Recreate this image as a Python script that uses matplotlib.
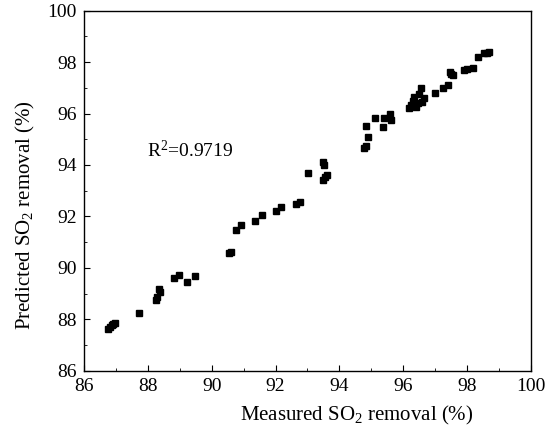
import numpy as np
import matplotlib
matplotlib.use("Agg")
import matplotlib.pyplot as plt
from matplotlib.ticker import MultipleLocator

plt.rcParams['font.family'] = ['Liberation Serif', 'DejaVu Serif']
plt.rcParams['mathtext.fontset'] = 'custom'
plt.rcParams['mathtext.rm'] = 'Liberation Serif'
plt.rcParams['mathtext.it'] = 'Liberation Serif:italic'

measured = [86.76, 86.82, 86.88, 86.92, 86.97, 87.73,
            88.24, 88.30, 88.35, 88.38, 88.81, 88.97, 89.24, 89.47,
            90.54, 90.60, 90.77, 90.93, 91.37, 91.59, 92.00, 92.16,
            92.65, 92.75, 93.01,
            93.48, 93.53, 93.55, 93.50, 93.60,
            94.78, 94.84, 94.90, 94.84, 95.10, 95.36, 95.39, 95.57, 95.60,
            96.19, 96.25, 96.35, 96.45, 96.30, 96.40, 96.56, 96.66, 96.50, 96.60,
            96.98, 97.24, 97.40, 97.45, 97.56, 97.50,
            97.91, 98.00, 98.17, 98.33, 98.54, 98.62, 98.70]
predicted = [87.64, 87.70, 87.76, 87.81, 87.86, 88.23,
             88.74, 88.85, 89.16, 89.05, 89.59, 89.72, 89.46, 89.68,
             90.56, 90.62, 91.49, 91.66, 91.83, 92.05, 92.22, 92.37,
             92.48, 92.57, 93.70,
             94.12, 94.00, 93.54, 93.41, 93.60,
             94.65, 94.75, 95.10, 95.53, 95.81, 95.49, 95.84, 96.00, 95.75,
             96.20, 96.35, 96.65, 96.40, 96.50, 96.25, 96.98, 96.59, 96.75, 96.45,
             96.79, 96.98, 97.11, 97.63, 97.50, 97.55,
             97.69, 97.72, 97.76, 98.19, 98.34, 98.36, 98.40]

fig = plt.figure(figsize=(5.54, 4.37), dpi=100)
ax = fig.add_axes([0.1516, 0.1517, 0.8069, 0.8238])

ax.plot(measured, predicted, 's', color='black', ms=4.5)

ax.set_xlim(86, 100)
ax.set_ylim(86, 100)
ax.xaxis.set_major_locator(MultipleLocator(2))
ax.yaxis.set_major_locator(MultipleLocator(2))
ax.xaxis.set_minor_locator(MultipleLocator(1))
ax.yaxis.set_minor_locator(MultipleLocator(1))
ax.tick_params(which='both', direction='in', top=False, right=False, labelsize=14)
ax.tick_params(which='major', length=4, pad=5)
ax.tick_params(which='minor', length=2)
for s in ax.spines.values():
    s.set_linewidth(1.0)

ax.set_xlabel('Measured SO$_2$ removal (%)', fontsize=15)
ax.set_ylabel('Predicted SO$_2$ removal (%)', fontsize=15)
ax.xaxis.set_label_coords(0.611, -0.092)
ax.yaxis.set_label_coords(-0.105, 0.4325)

ax.text(87.97, 94.57, 'R$^2$=0.9719', fontsize=14, va='center', ha='left')

fig.savefig('out.png', dpi=100)
